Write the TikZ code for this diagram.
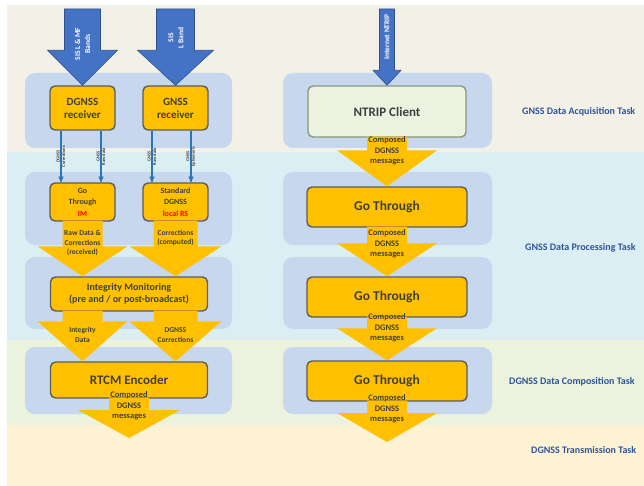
\documentclass[tikz,border=0pt]{standalone}
\usepackage{fontspec}
\setmainfont{Carlito}
\usetikzlibrary{arrows,calc}

\definecolor{bandtop}{RGB}{243,240,231}
\definecolor{bandblue}{RGB}{219,238,244}
\definecolor{bandgreen}{RGB}{235,242,222}
\definecolor{bandyellow}{RGB}{254,242,212}
\definecolor{panel}{RGB}{199,216,238}
\definecolor{yfill}{RGB}{255,192,0}
\definecolor{boxline}{RGB}{92,92,92}
\definecolor{txtgray}{RGB}{64,64,64}
\definecolor{sisblue}{RGB}{68,114,196}
\definecolor{sisline}{RGB}{47,82,143}
\definecolor{sigblue}{RGB}{46,117,182}
\definecolor{tasktxt}{RGB}{47,85,151}
\definecolor{ntripfill}{RGB}{236,242,224}
\definecolor{ntripline}{RGB}{135,150,125}

% block arrow: style, from, tip, shaft half width, head half width, head length
\newcommand{\fatarrow}[6]{%
  \fill[#1] let \p1=(#2), \p2=(#3) in
    (\x1-#4,\y1+1pt) -- (\x1+#4,\y1+1pt) -- (\x1+#4,\y2+#6) -- (\x1+#5,\y2+#6)
    -- (\x2,\y2) -- (\x1-#5,\y2+#6) -- (\x1-#4,\y2+#6) -- cycle;}

\begin{document}
\begin{tikzpicture}[x=1pt,y=-1pt,>=stealth',
  ybox/.style={draw=boxline,fill=yfill,line width=1.4pt,rounded corners=5pt,
    text=txtgray,align=center,inner sep=0pt},
  panelbox/.style={fill=panel,rounded corners=10pt},
  yarrow/.style={fill=yfill},
  barrow/.style={fill=sisblue,draw=sisline,line width=0.6pt},
  sig/.style={->,draw=sigblue,line width=1.1pt},
  siglab/.style={rotate=90,font=\fontsize{4.5}{5.5}\selectfont\bfseries,text=txtgray,align=center},
  sislab/.style={rotate=90,font=\fontsize{7.5}{10}\selectfont\bfseries,text=white,align=center},
  alab/.style={font=\fontsize{7.5}{9.8}\selectfont\bfseries,text=txtgray,align=center},
  task/.style={anchor=west,inner sep=0pt,font=\fontsize{10}{12}\selectfont\bfseries,text=tasktxt}]

  \clip (0,0) rectangle (644,486);
  \fill[white] (0,0) rectangle (644,486);

  % task bands
  \fill[bandtop] (7,5) rectangle (644,152);
  \fill[bandblue] (7,152) rectangle (644,340);
  \fill[bandgreen] (7,340) rectangle (644,425);
  \fill[bandyellow] (7,425) rectangle (644,486);

  % group panels
  \foreach \ya/\yb in {73/148,172/245,257/329,347/414} {
    \fill[panelbox] (25,\ya) rectangle (232,\yb);
    \fill[panelbox] (283,\ya) rectangle (492,\yb);
  }

  % processing blocks
  \node[ybox,minimum width=65pt,minimum height=44pt,font=\fontsize{11}{13}\selectfont\bfseries] (dgr) at (82.5,108) {DGNSS\\receiver};
  \node[ybox,minimum width=65pt,minimum height=44pt,font=\fontsize{11}{13}\selectfont\bfseries] (gr) at (175.5,108) {GNSS\\receiver};
  \node[ybox,minimum width=65pt,minimum height=38pt,font=\fontsize{8}{11.5}\selectfont\bfseries] (gtim) at (82.5,202) {Go\\Through\\\textcolor{red}{IM}};
  \node[ybox,minimum width=65pt,minimum height=38pt,font=\fontsize{8}{11.5}\selectfont\bfseries] (sdg) at (175.5,202) {Standard\\DGNSS\\\textcolor{red}{local RS}};
  \node[ybox,minimum width=157pt,minimum height=34pt,font=\fontsize{10}{12.5}\selectfont\bfseries] (intmon) at (129,294) {Integrity Monitoring\\(pre and / or post-broadcast)};
  \node[ybox,minimum width=157pt,minimum height=36pt,font=\fontsize{13}{15}\selectfont\bfseries] (rtcm) at (129,380) {RTCM Encoder};

  \node[ybox,draw=ntripline,fill=ntripfill,minimum width=158pt,minimum height=51pt,font=\fontsize{13}{15}\selectfont\bfseries] (ntrip) at (387,111.5) {NTRIP Client};
  \node[ybox,minimum width=160pt,minimum height=40pt,font=\fontsize{13.5}{15}\selectfont\bfseries] (gt1) at (387,207) {Go Through};
  \node[ybox,minimum width=160pt,minimum height=40pt,font=\fontsize{13.5}{15}\selectfont\bfseries] (gt2) at (387,297) {Go Through};
  \node[ybox,minimum width=160pt,minimum height=40pt,font=\fontsize{13.5}{15}\selectfont\bfseries] (gt3) at (387,381) {Go Through};

  \coordinate (in1) at (82.5,10);
  \coordinate (in2) at (175.5,10);
  \coordinate (in3) at (387,10);
  \coordinate (out1) at (129,438);
  \coordinate (out2) at (387,442);

  % signal in space
  \fatarrow{barrow}{in1}{dgr.north}{18pt}{35pt}{35pt}
  \fatarrow{barrow}{in2}{gr.north}{19pt}{38pt}{35pt}
  \fatarrow{barrow}{in3}{ntrip.north}{7.5pt}{14pt}{15pt}
  \node[sislab] (sis1) at (82.5,44) {SIS L \& MF\\Bands};
  \node[sislab] (sis2) at (176,38) {SIS\\L Band};
  \node[sislab,font=\fontsize{7.5}{9}\selectfont\bfseries] (sis3) at (387,37) {Internet NTRIP};

  % receiver outputs
  \draw[sig] ($(dgr.south)+(-21.5,0)$) -- ($(gtim.north)+(-21.5,0)$) node[midway,siglab] {DGNSS\\Corrections};
  \draw[sig] ($(dgr.south)+(18.5,0)$) -- ($(gtim.north)+(18.5,0)$) node[midway,siglab] {GNSS\\Raw data};
  \draw[sig] ($(gr.south)+(-23.5,0)$) -- ($(sdg.north)+(-23.5,0)$) node[midway,siglab] {GNSS\\Raw data};
  \draw[sig] ($(gr.south)+(15.5,0)$) -- ($(sdg.north)+(15.5,0)$) node[midway,siglab] {GNSS\\Ephemeris};

  % data flow
  \fatarrow{yarrow}{gtim.south}{gtim.south |- intmon.north}{20pt}{45pt}{30pt}
  \fatarrow{yarrow}{sdg.south}{sdg.south |- intmon.north}{22pt}{46pt}{30pt}
  \fatarrow{yarrow}{gtim.south |- intmon.south}{gtim.south |- rtcm.north}{20pt}{45pt}{40pt}
  \fatarrow{yarrow}{sdg.south |- intmon.south}{sdg.south |- rtcm.north}{22pt}{46pt}{40pt}
  \fatarrow{yarrow}{rtcm.south}{out1}{20pt}{51pt}{28pt}
  \fatarrow{yarrow}{ntrip.south}{gt1.north}{20pt}{50pt}{36pt}
  \fatarrow{yarrow}{gt1.south}{gt2.north}{20pt}{50pt}{33pt}
  \fatarrow{yarrow}{gt2.south}{gt3.north}{20pt}{50pt}{32pt}
  \fatarrow{yarrow}{gt3.south}{out2}{20pt}{50pt}{29pt}

  \node[alab] (l1) at (82.5,243) {Raw Data \&\\Corrections\\(received)};
  \node[alab] (l2) at (175.5,238) {Corrections\\(computed)};
  \node[alab] (l3) at (82.5,335) {Integrity\\Data};
  \node[alab] (l4) at (175.5,335) {DGNSS\\Corrections};
  \node[alab,font=\fontsize{8.5}{10.5}\selectfont\bfseries] (l5) at (129,406) {Composed\\DGNSS\\messages};
  \node[alab,font=\fontsize{8.5}{10.5}\selectfont\bfseries] (r1) at (387,151) {Composed\\DGNSS\\messages};
  \node[alab,font=\fontsize{8.5}{10.5}\selectfont\bfseries] (r2) at (387,244) {Composed\\DGNSS\\messages};
  \node[alab,font=\fontsize{8.5}{10.5}\selectfont\bfseries] (r3) at (387,328) {Composed\\DGNSS\\messages};
  \node[alab,font=\fontsize{8.5}{10.5}\selectfont\bfseries] (r4) at (387,409) {Composed\\DGNSS\\messages};

  % task names
  \node[task] (t1) at (522,112) {GNSS Data Acquisition Task};
  \node[task] (t2) at (525,248) {GNSS Data Processing Task};
  \node[task] (t3) at (509,382) {DGNSS Data Composition Task};
  \node[task] (t4) at (531,450) {DGNSS Transmission Task};
\end{tikzpicture}
\end{document}
